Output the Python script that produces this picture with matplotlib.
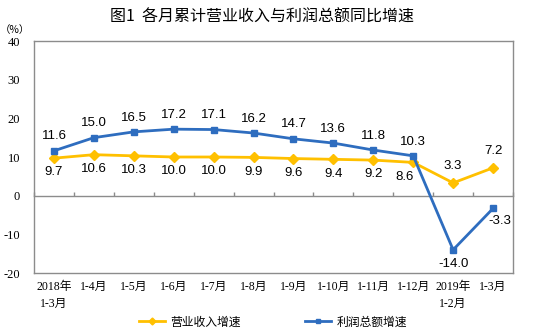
import matplotlib
matplotlib.use("Agg")
import matplotlib.pyplot as plt
from matplotlib.lines import Line2D

categories = ["2018年\n1-3月", "1-4月", "1-5月", "1-6月", "1-7月", "1-8月", "1-9月",
              "1-10月", "1-11月", "1-12月", "2019年\n1-2月", "1-3月"]
revenue = [9.7, 10.6, 10.3, 10.0, 10.0, 9.9, 9.6, 9.4, 9.2, 8.6, 3.3, 7.2]
profit = [11.6, 15.0, 16.5, 17.2, 17.1, 16.2, 14.7, 13.6, 11.8, 10.3, -14.0, -3.3]
yticks = [40, 30, 20, 10, 0, -10, -20]
title = "图1  各月累计营业收入与利润总额同比增速"
rev_name = "营业收入增速"
prof_name = "利润总额增速"

YELLOW = "#FFC000"
BLUE = "#2E6DBF"
GRAY = "#8C8C8C"
CJK = ["Noto Sans CJK SC", "DejaVu Sans"]
SERIF = ["Liberation Serif", "Noto Sans CJK SC"]

fig = plt.figure(figsize=(5.35, 3.36), dpi=100)
ax = fig.add_axes([34/535, 1-273/336, (513-34)/535, (273-41)/336])

x = list(range(len(categories)))
ax.plot(x, revenue, color=YELLOW, lw=2, marker="D", ms=5, zorder=3)
ax.plot(x, profit, color=BLUE, lw=2, marker="s", ms=4.5, zorder=3)

ymin, ymax = -20, 40
ax.set_ylim(ymin, ymax)
ax.set_xlim(-0.5, len(categories) - 0.5)

for s in ax.spines.values():
    s.set_color(GRAY)
    s.set_linewidth(1)

ax.set_yticks(yticks)
ax.set_yticklabels([str(v) for v in yticks], family=SERIF, fontsize=9)
ax.tick_params(axis="y", length=0, pad=10)
ax.set_xticks(x)
ax.set_xticklabels(categories, family=SERIF, fontsize=8.5, linespacing=1.5)
ax.tick_params(axis="x", length=0, pad=6)
for lab in ax.get_xticklabels():
    lab.set_verticalalignment("top")

# zero axis with boundary ticks
zero_frac = (0 - ymin) / (ymax - ymin)
sec = ax.secondary_xaxis(zero_frac)
sec.set_xticks([i - 0.5 for i in range(len(categories) + 1)])
sec.set_xticklabels([])
sec.tick_params(direction="in", length=3, color=GRAY, width=1)
sec.spines["bottom"].set_color(GRAY)
sec.spines["bottom"].set_linewidth(1)

lab_kw = dict(family=["Liberation Sans", "DejaVu Sans"], fontsize=9.5, ha="center")
n = len(categories)
for i in x:
    # revenue labels
    if i >= n - 2:
        ax.annotate(f"{revenue[i]:.1f}", (i, revenue[i]), xytext=(0, 8),
                    textcoords="offset points", va="bottom", **lab_kw)
    elif i == n - 3:
        ax.annotate(f"{revenue[i]:.1f}", (i, revenue[i]), xytext=(-6, -6),
                    textcoords="offset points", va="top", **lab_kw)
    else:
        ax.annotate(f"{revenue[i]:.1f}", (i, revenue[i]), xytext=(0, -6),
                    textcoords="offset points", va="top", **lab_kw)
    # profit labels
    if i == n - 1:
        ax.annotate(f"{profit[i]:.1f}", (i, profit[i]), xytext=(5, -5),
                    textcoords="offset points", va="top", **lab_kw)
    elif profit[i] < 0:
        ax.annotate(f"{profit[i]:.1f}", (i, profit[i]), xytext=(0, -6),
                    textcoords="offset points", va="top", **lab_kw)
    else:
        ax.annotate(f"{profit[i]:.1f}", (i, profit[i]), xytext=(0, 6),
                    textcoords="offset points", va="bottom", **lab_kw)

fig.text(262/535, 1-17/336, title, family=CJK, fontsize=11.5, fontweight="medium",
         ha="center", va="center")
fig.text(15/535, 1-30/336, "（%）", family=CJK, fontsize=7.5, ha="center", va="center")

handles = [Line2D([], [], color=YELLOW, lw=2, marker="D", ms=3.5),
           Line2D([], [], color=BLUE, lw=2, marker="s", ms=3.5)]
fig.legend(handles, [rev_name, prof_name], loc="center", bbox_to_anchor=(273/535, 1-322/336),
           ncol=2, frameon=False, prop={"family": CJK, "size": 8.5},
           handlelength=2.2, columnspacing=5.5, handletextpad=0.4)

fig.savefig("out.png", dpi=100)
